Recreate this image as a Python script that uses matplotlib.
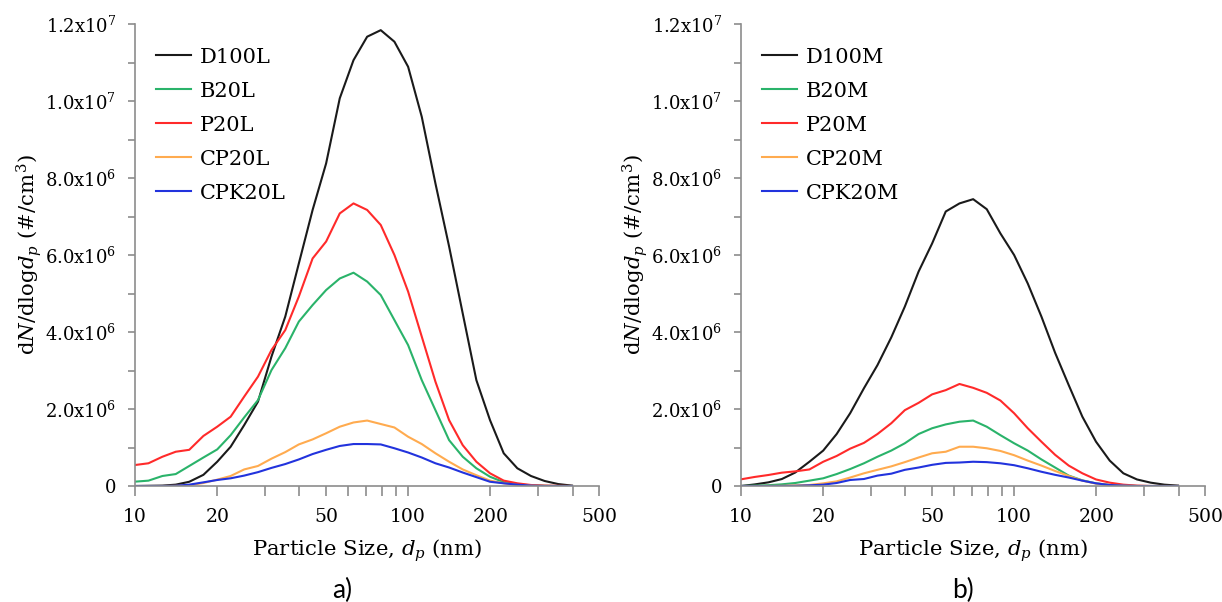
import matplotlib
matplotlib.use("Agg")
import matplotlib.pyplot as plt
from matplotlib.ticker import FixedLocator, FuncFormatter, MultipleLocator, NullFormatter

plt.rcParams['font.family'] = ['DejaVu Serif']
plt.rcParams['mathtext.fontset'] = 'custom'
plt.rcParams['mathtext.rm'] = 'DejaVu Serif'
plt.rcParams['mathtext.it'] = 'DejaVu Serif:italic'

# particle diameters (nm)
diam = [10.0, 11.2, 12.6, 14.1, 15.8, 17.8, 20.0, 22.4, 25.1, 28.2, 31.6, 35.5,
        39.8, 44.7, 50.1, 56.2, 63.1, 70.8, 79.4, 89.1, 100.0, 112.2, 125.9,
        141.3, 158.5, 177.8, 199.5, 223.9, 251.2, 281.8, 316.2, 354.8, 398.1]

# panel a) dN/dlogdp (#/cm3)
D100L = [0, 5e3, 1e4, 3.5e4, 1.1e5, 2.9e5, 6.3e5, 1.02e6, 1.58e6, 2.19e6, 3.36e6, 4.4e6,
         5.78e6, 7.17e6, 8.38e6, 1.007e7, 1.106e7, 1.167e7, 1.184e7, 1.154e7, 1.089e7,
         9.59e6, 7.86e6, 6.22e6, 4.48e6, 2.75e6, 1.71e6, 8.5e5, 4.6e5, 2.6e5, 1.3e5, 5e4, 1e4]
B20L = [1.13e5, 1.39e5, 2.6e5, 3.1e5, 5.2e5, 7.4e5, 9.5e5, 1.32e6, 1.78e6, 2.23e6, 3.01e6,
        3.58e6, 4.27e6, 4.70e6, 5.09e6, 5.39e6, 5.54e6, 5.31e6, 4.96e6, 4.31e6, 3.66e6,
        2.75e6, 1.97e6, 1.19e6, 7.6e5, 4.6e5, 2.4e5, 1.0e5, 4e4, 2e4, 5e3, 0, 0]
P20L = [5.45e5, 5.9e5, 7.6e5, 8.9e5, 9.4e5, 1.30e6, 1.54e6, 1.80e6, 2.32e6, 2.84e6, 3.53e6,
        4.05e6, 4.92e6, 5.91e6, 6.35e6, 7.08e6, 7.34e6, 7.17e6, 6.78e6, 6.0e6, 5.05e6,
        3.88e6, 2.71e6, 1.71e6, 1.06e6, 6.3e5, 3.3e5, 1.4e5, 7e4, 2.6e4, 1e4, 5e3, 0]
CP20L = [0, 0, 0, 5e3, 2e4, 7.8e4, 1.65e5, 2.6e5, 4.3e5, 5.2e5, 7.1e5, 8.8e5, 1.08e6,
         1.21e6, 1.37e6, 1.54e6, 1.65e6, 1.70e6, 1.61e6, 1.52e6, 1.28e6, 1.09e6, 8.5e5,
         6.3e5, 4.3e5, 2.8e5, 1.4e5, 7e4, 2.6e4, 1e4, 0, 0, 0]
CPK20L = [0, 0, 0, 5e3, 3.5e4, 9.5e4, 1.56e5, 2.0e5, 2.7e5, 3.6e5, 4.7e5, 5.7e5, 6.9e5,
          8.3e5, 9.4e5, 1.04e6, 1.09e6, 1.09e6, 1.08e6, 9.8e5, 8.7e5, 7.4e5, 5.9e5,
          4.8e5, 3.5e5, 2.3e5, 1.1e5, 7e4, 3.5e4, 1e4, 0, 0, 0]

# panel b)
D100M = [0, 4e4, 9.5e4, 1.8e5, 3.5e5, 6.3e5, 9.2e5, 1.35e6, 1.89e6, 2.54e6, 3.14e6, 3.86e6,
         4.66e6, 5.57e6, 6.30e6, 7.13e6, 7.34e6, 7.45e6, 7.19e6, 6.56e6, 6.0e6, 5.26e6,
         4.40e6, 3.46e6, 2.62e6, 1.80e6, 1.15e6, 6.6e5, 3.3e5, 1.7e5, 8.7e4, 3.5e4, 1e4]
B20M = [0, 1e4, 2e4, 4.3e4, 7.8e4, 1.39e5, 2.0e5, 3.1e5, 4.4e5, 5.9e5, 7.6e5, 9.2e5,
        1.11e6, 1.35e6, 1.50e6, 1.60e6, 1.67e6, 1.70e6, 1.54e6, 1.32e6, 1.11e6, 9.2e5,
        6.9e5, 4.8e5, 2.7e5, 1.47e5, 6.9e4, 2.6e4, 1e4, 0, 0, 0, 0]
P20M = [1.73e5, 2.34e5, 2.86e5, 3.46e5, 3.8e5, 4.3e5, 6.3e5, 7.8e5, 9.7e5, 1.12e6, 1.35e6,
        1.63e6, 1.97e6, 2.16e6, 2.38e6, 2.49e6, 2.65e6, 2.55e6, 2.42e6, 2.22e6, 1.89e6,
        1.50e6, 1.15e6, 8.1e5, 5.3e5, 3.3e5, 1.7e5, 8.7e4, 3.5e4, 1e4, 0, 0, 0]
CP20M = [0, 0, 2e3, 5e3, 1.7e4, 2.6e4, 6.9e4, 1.2e5, 2.2e5, 3.3e5, 4.2e5, 5.1e5, 6.2e5,
         7.4e5, 8.5e5, 8.9e5, 1.02e6, 1.02e6, 9.8e5, 9.1e5, 8.0e5, 6.6e5, 5.3e5, 3.9e5,
         2.6e5, 1.39e5, 6.1e4, 2.6e4, 1e4, 0, 0, 0, 0]
CPK20M = [0, 0, 0, 2e3, 5e3, 1.7e4, 3.5e4, 7.8e4, 1.56e5, 1.82e5, 2.7e5, 3.2e5, 4.2e5,
          4.8e5, 5.5e5, 6.0e5, 6.1e5, 6.3e5, 6.2e5, 5.9e5, 5.4e5, 4.6e5, 3.7e5, 2.9e5,
          2.2e5, 1.39e5, 6.9e4, 2.6e4, 1e4, 0, 0, 0, 0]

colors = ['#1a1a1a', '#2ab36a', '#ff2a2a', '#ffab4f', '#2233dd']
names_a = ['D100L', 'B20L', 'P20L', 'CP20L', 'CPK20L']
names_b = ['D100M', 'B20M', 'P20M', 'CP20M', 'CPK20M']
series_a = [D100L, B20L, P20L, CP20L, CPK20L]
series_b = [D100M, B20M, P20M, CP20M, CPK20M]

xticks = [10, 20, 50, 100, 200, 500]
xminor = [30, 40, 60, 70, 80, 90, 300, 400]
yticks = [0, 2e6, 4e6, 6e6, 8e6, 1e7, 1.2e7]


def yfmt(v, pos):
    if v == 0:
        return '0'
    e = 0
    m = v
    while m >= 10:
        m /= 10
        e += 1
    return f'{m:.1f}x10$^{{{e}}}$'


fig = plt.figure(figsize=(12.22, 6.02), dpi=100)
axa = fig.add_axes([135/1222, 1-486/602, 464/1222, 462/602])
axb = fig.add_axes([741/1222, 1-486/602, 464/1222, 462/602])

gray = '#8c8c8c'
for ax, names, series, tag, tx in [(axa, names_a, series_a, 'a)', 0.446),
                                   (axb, names_b, series_b, 'b)', 0.478)]:
    for name, s, c in zip(names, series, colors):
        ax.plot(diam, s, color=c, lw=1.5, label=name)
    ax.set_xscale('log')
    ax.set_xlim(10, 500)
    ax.set_ylim(0, 1.2e7)
    ax.xaxis.set_major_locator(FixedLocator(xticks))
    ax.xaxis.set_major_formatter(FuncFormatter(lambda v, p: f'{v:g}'))
    ax.xaxis.set_minor_locator(FixedLocator(xminor))
    ax.xaxis.set_minor_formatter(NullFormatter())
    ax.yaxis.set_major_locator(FixedLocator(yticks))
    ax.yaxis.set_minor_locator(MultipleLocator(1e6))
    ax.yaxis.set_major_formatter(FuncFormatter(yfmt))
    for sp in ['top', 'right']:
        ax.spines[sp].set_visible(False)
    for sp in ['left', 'bottom']:
        ax.spines[sp].set_color(gray)
        ax.spines[sp].set_linewidth(1.2)
    ax.tick_params(axis='x', which='both', direction='out', length=7, width=1.2,
                   color=gray, labelsize=13.5, pad=9)
    ax.tick_params(axis='y', which='both', direction='out', length=5, width=1.2,
                   color=gray, labelsize=13, pad=8.5)
    ax.set_xlabel('Particle Size, $d_p$ (nm)', fontsize=15.3, labelpad=8)
    ax.set_ylabel('d$N$/dlog$d_p$ (#/cm$^3$)', fontsize=15.3, labelpad=1)
    ax.legend(loc='upper left', bbox_to_anchor=(0.027, 0.967), frameon=False,
              fontsize=15, handlelength=1.7, handletextpad=0.4, labelspacing=0.72,
              borderaxespad=0)
    ax.text(tx, -0.227, tag, transform=ax.transAxes, ha='center', va='center',
            fontsize=19, family='Lato')

fig.savefig('out.png', dpi=100)
